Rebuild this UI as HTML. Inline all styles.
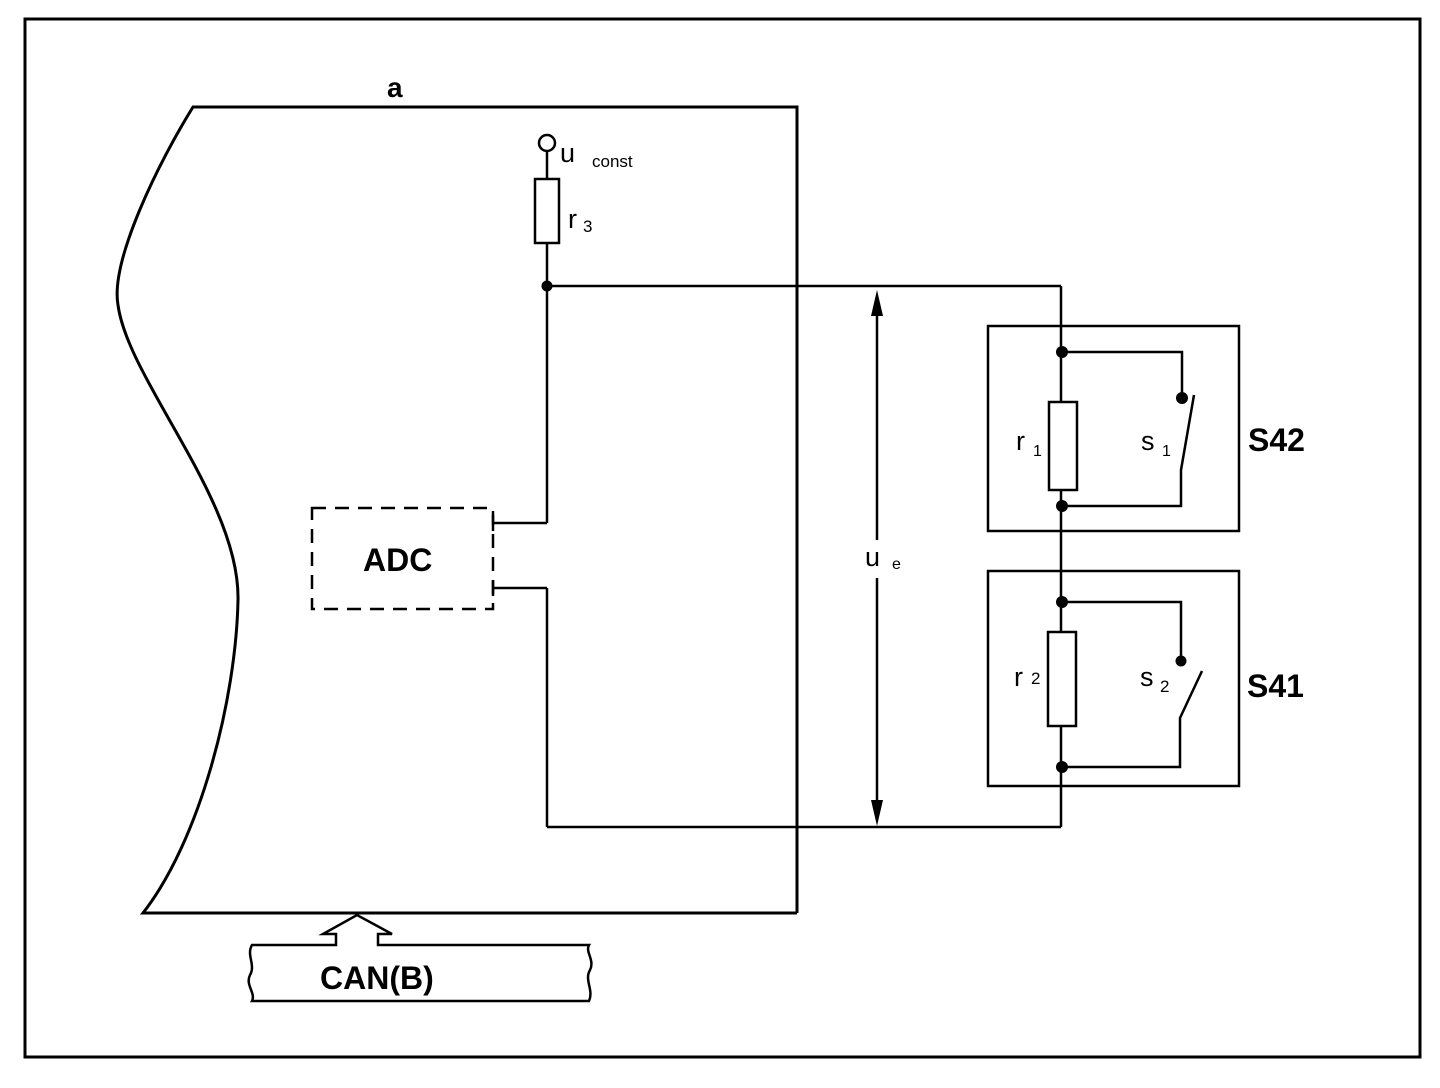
<!DOCTYPE html>
<html><head><meta charset="utf-8"><style>
html,body{margin:0;padding:0;background:#fff;}
svg{display:block;}
text{font-family:"Liberation Sans",Arial,sans-serif;fill:#000;}
</style></head><body>
<svg width="1440" height="1088" viewBox="0 0 1440 1088" xmlns="http://www.w3.org/2000/svg">
<g fill="none" stroke="#000" stroke-width="2.5">
<rect x="25" y="19" width="1395" height="1038" stroke-width="3"/>
<path d="M797 913 L797 107 L193 107 C160 160 110 260 118 305 C128 380 240 500 238 600 C236 700 200 840 143 913 L797 913" stroke-width="3"/>
<circle cx="547" cy="143" r="8" stroke-width="2.5"/>
<line x1="547" y1="151" x2="547" y2="179"/>
<rect x="535" y="179" width="24" height="64"/>
<line x1="547" y1="243" x2="547" y2="523"/>
<line x1="547" y1="286" x2="1061" y2="286"/>
<line x1="547" y1="523" x2="493" y2="523"/>
<line x1="493" y1="515" x2="493" y2="531"/>
<line x1="493" y1="580" x2="493" y2="596"/>
<line x1="493" y1="588" x2="547" y2="588"/>
<line x1="547" y1="588" x2="547" y2="827"/>
<line x1="547" y1="827" x2="1061" y2="827"/>
<line x1="1061" y1="286" x2="1061" y2="827"/>
<rect x="312" y="508" width="181" height="101" stroke-dasharray="14,9"/>
<line x1="877" y1="300" x2="877" y2="540"/>
<line x1="877" y1="578" x2="877" y2="815"/>
<rect x="988" y="326" width="251" height="205"/>
<rect x="1049" y="402" width="28" height="88" fill="#fff"/>
<polyline points="1062,352 1182,352 1182,398"/>
<polyline points="1194,395 1181,470 1181,506 1062,506"/>
<rect x="988" y="571" width="251" height="215"/>
<rect x="1048" y="632" width="28" height="94" fill="#fff"/>
<polyline points="1062,602 1181,602 1181,660"/>
<polyline points="1202,671 1180,718 1180,767 1062,767"/>
<path d="M252 945 C246 955 256 965 250 975 C245 985 256 993 252 1001 L589 1001 C594 990 584 980 590 970 C595 960 585 952 589 945 L378 945 L378 934 L392 934 L357 915 L323 934 L336 934 L336 945 Z"/>
</g>
<g fill="#000">
<circle cx="547" cy="286" r="5.5"/>
<circle cx="1062" cy="352" r="6"/>
<circle cx="1062" cy="506" r="6"/>
<circle cx="1182" cy="398" r="6"/>
<circle cx="1062" cy="602" r="6"/>
<circle cx="1062" cy="767" r="6"/>
<circle cx="1181" cy="661" r="5.5"/>
<polygon points="877,290 871,316 883,316"/>
<polygon points="877,826 871,800 883,800"/>
</g>
<text x="387" y="97" font-size="28" font-weight="bold">a</text>
<text x="560" y="162" font-size="27">u</text>
<text x="592" y="167" font-size="17">const</text>
<text x="568" y="228" font-size="27">r</text>
<text x="583" y="232" font-size="17">3</text>
<text x="363" y="571" font-size="32" font-weight="bold">ADC</text>
<text x="865" y="566" font-size="27">u</text>
<text x="892" y="569" font-size="16">e</text>
<text x="1016" y="450" font-size="27">r</text>
<text x="1033" y="456" font-size="16">1</text>
<text x="1141" y="450" font-size="27">s</text>
<text x="1162" y="456" font-size="16">1</text>
<text x="1014" y="686" font-size="27">r</text>
<text x="1031" y="684" font-size="17">2</text>
<text x="1140" y="686" font-size="27">s</text>
<text x="1160" y="692" font-size="17">2</text>
<text x="1248" y="451" font-size="32" font-weight="bold">S42</text>
<text x="1247" y="697" font-size="32" font-weight="bold">S41</text>
<text x="320" y="989" font-size="32" font-weight="bold">CAN(B)</text>
</svg>
</body></html>
